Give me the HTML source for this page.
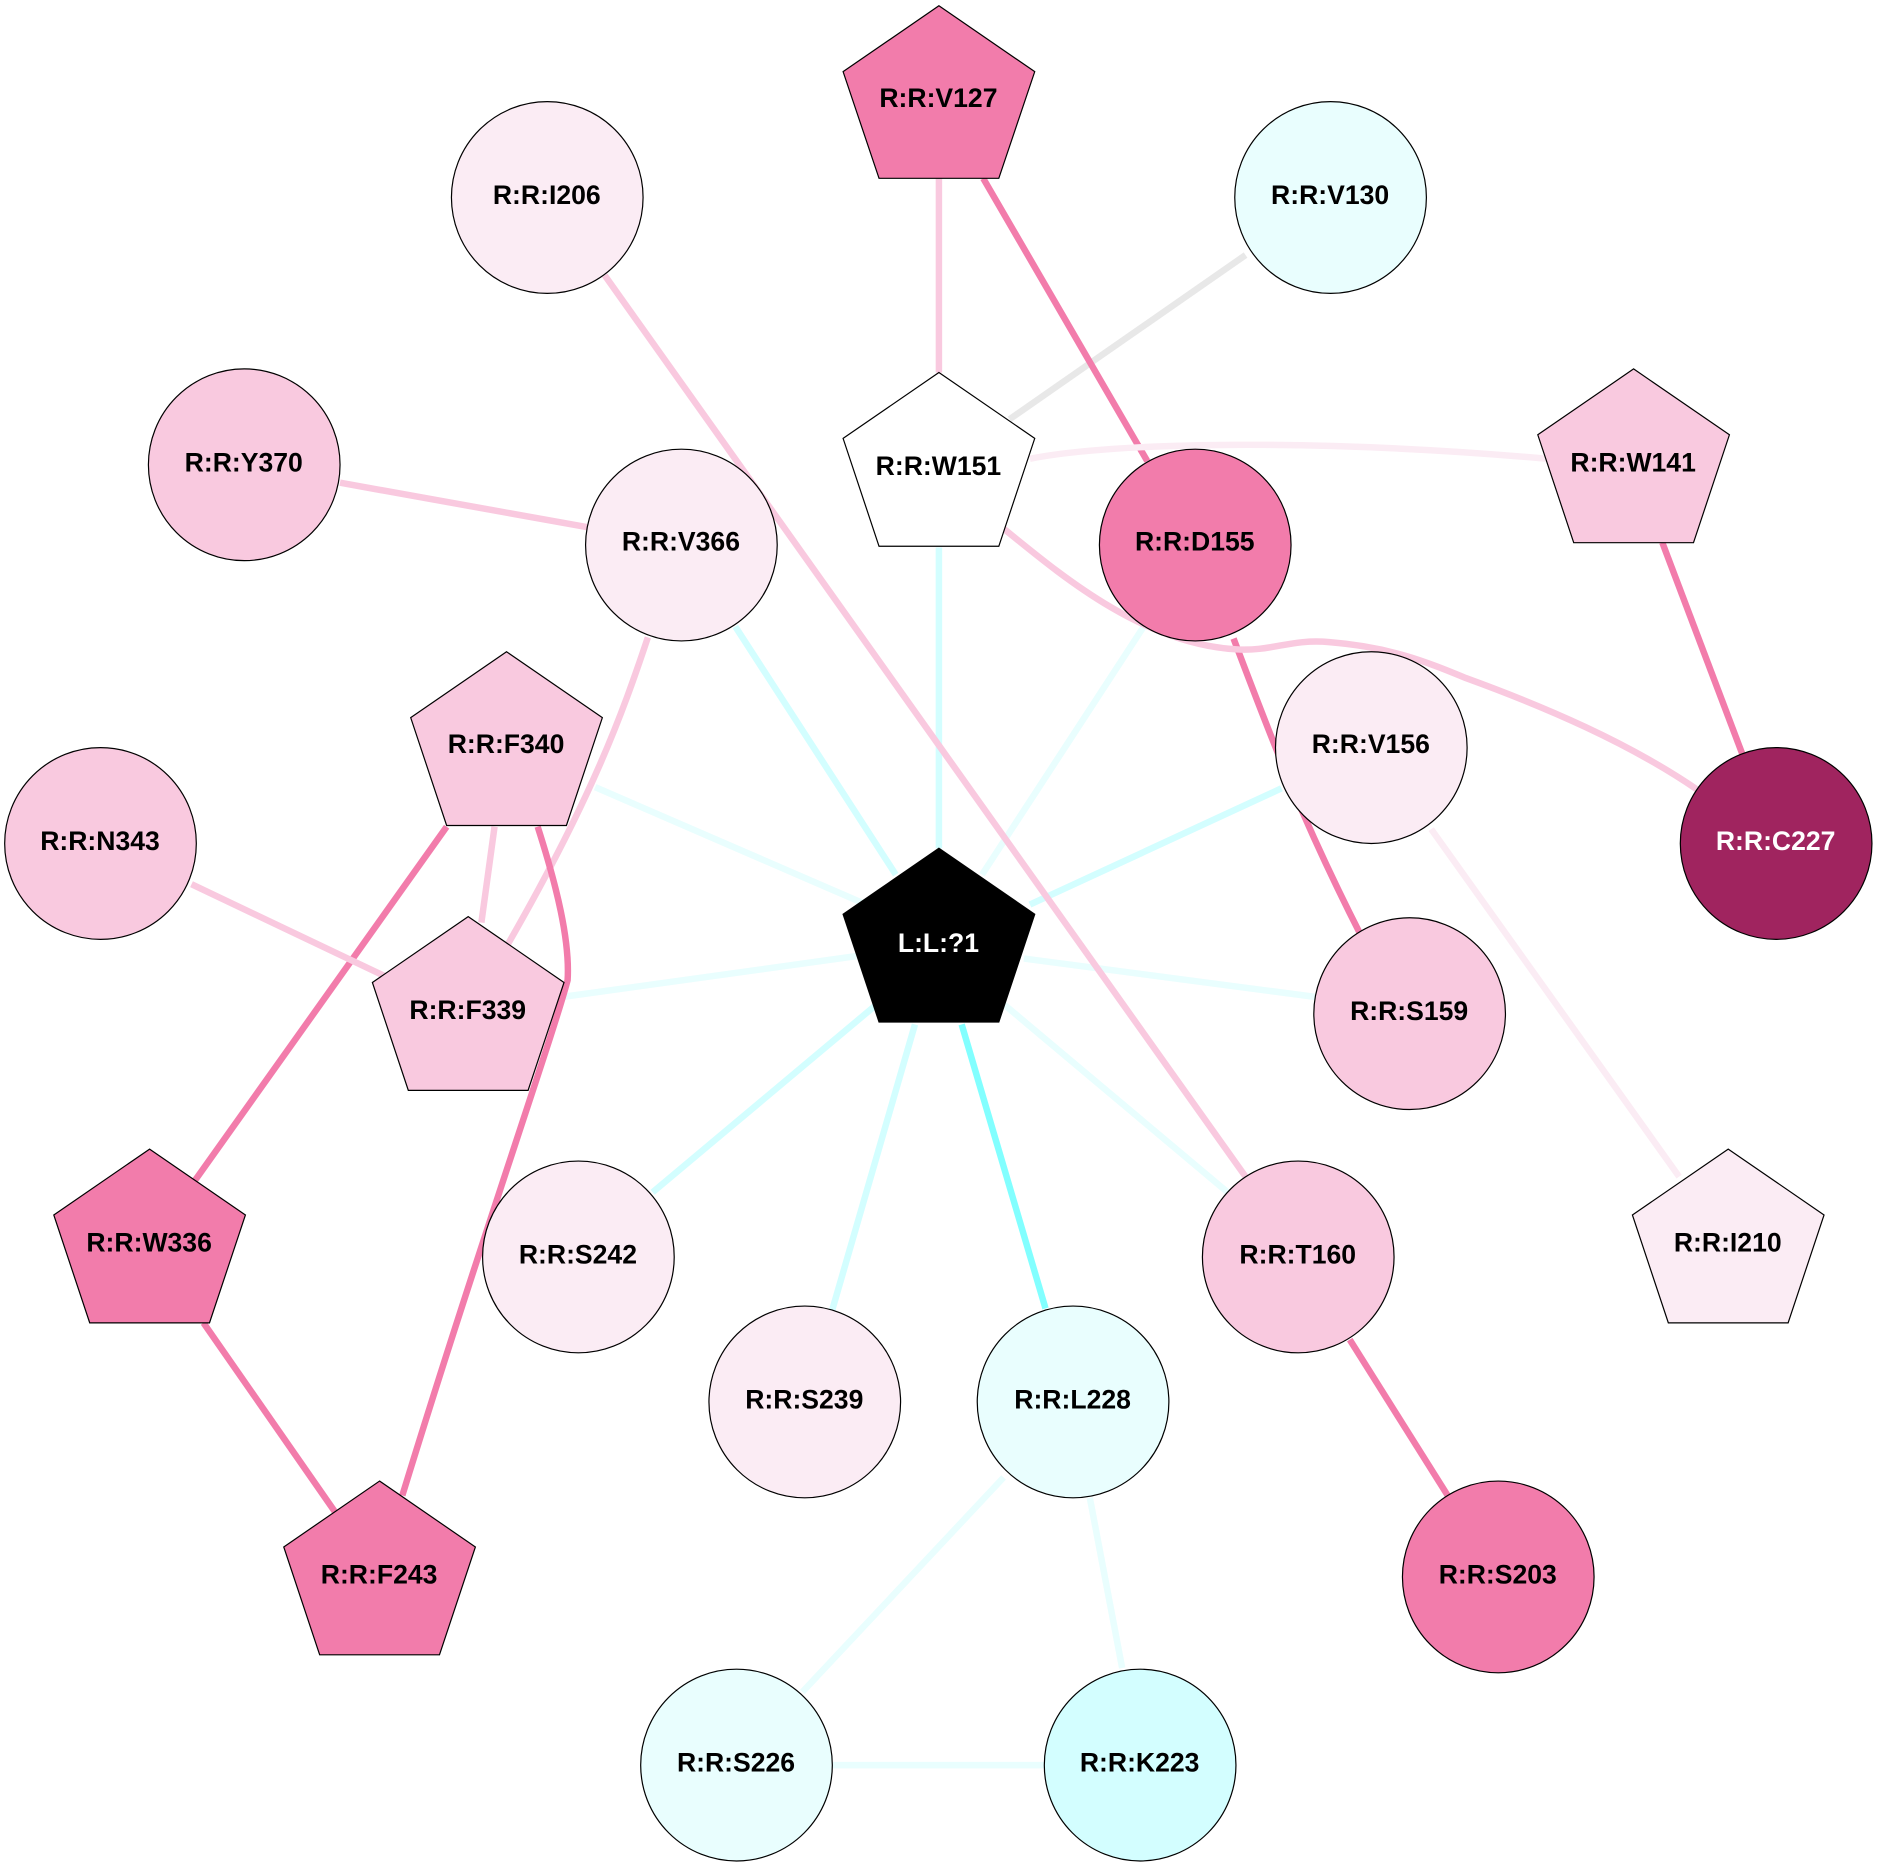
<!DOCTYPE html>
<html><head><meta charset="utf-8"><style>
html,body{margin:0;padding:0;background:#fff}
svg{display:block}
text{font-family:"Liberation Sans",Arial,sans-serif;font-weight:700;font-size:22.2px;text-anchor:middle}
.n{stroke:#000;stroke-width:1}
.e{fill:none;stroke-width:5.4}
.a{stroke:#f27cab}.b{stroke:#f9c9df}.c{stroke:#fbecf4}
.d{stroke:#d3feff}.f{stroke:#e9fefe}.g{stroke:#82ffff}.h{stroke:#e8e8e8}
</style></head><body>
<svg width="1878" height="1866" viewBox="0 0 1567 1557" xmlns="http://www.w3.org/2000/svg">
<rect width="1567" height="1557" fill="#fff"/>
<g transform="translate(-0.1,-0.2) scale(0.9994,1)">
<g>
<path class="e d" d="M784 457V708"/>
<path class="e d" d="M614 523L748 730"/>
<path class="e f" d="M497 657L735 760"/>
<path class="e f" d="M470 832L715 798"/>
<path class="e d" d="M545 995L730 840"/>
<path class="e d" d="M695 1093L764 855"/>
<path class="e g" d="M873 1092L803 855"/>
<path class="e f" d="M1025 995L838 838"/>
<path class="e f" d="M1098 832L855 800"/>
<path class="e d" d="M1070 658L860 755"/>
<path class="e f" d="M955 523L820 730"/>
<path class="e f" d="M838 1233L670 1412"/>
<path class="e f" d="M910 1250L937 1392"/>
<path class="e f" d="M695 1473H873"/>
<path class="e h" d="M1040 213L843 350"/>
<path class="e b" d="M784 149V311"/>
<path class="e a" d="M821 149L958 385"/>
<path class="e c" d="M860 383C930 369 1100 366 1292 383"/>
<path class="e a" d="M1388 453L1455 630"/>
<path class="e a" d="M1030 533C1060 612 1085 680 1137 782"/>
<path class="e b" d="M834 438C880 475 950 537 1032 542C1062 544 1078 533 1110 536C1160 540 1190 552 1224 566C1290 590 1360 620 1417 659"/>
<path class="e c" d="M1195 692L1402 982"/>
<path class="e b" d="M505 230L1040 982"/>
<path class="e a" d="M1127 1118L1210 1250"/>
<path class="e b" d="M284 403L490 440"/>
<path class="e b" d="M541 532C520 595 495 665 423 790"/>
<path class="e b" d="M413 690L402 770"/>
<path class="e a" d="M373 690L163 985"/>
<path class="e b" d="M160 738L322 815"/>
<path class="e a" d="M449 690C465 740 476 785 474 818C460 870 400 1040 336 1248"/>
<path class="e a" d="M170 1104L280 1262"/>
</g>
<g class="n">
<polygon fill="#f27cab" points="784,5 864,60 834,149 734,149 704,60"/>
<polygon fill="#fff" points="784,311 864,366 834,456 734,456 704,366"/>
<polygon fill="#f9c9df" points="1364,308 1444,363 1414,453 1314,453 1284,363"/>
<polygon fill="#f9c9df" points="423,544 503,599 473,689 373,689 343,599"/>
<polygon fill="#f9c9df" points="391,765 471,820 441,910 341,910 311,820"/>
<polygon fill="#000" points="784,708 864,763 834,853 734,853 704,763"/>
<polygon fill="#f27cab" points="125,959 205,1014 175,1104 75,1104 45,1014"/>
<polygon fill="#fbecf4" points="1443,959 1523,1014 1493,1104 1393,1104 1363,1014"/>
<polygon fill="#f27cab" points="317,1236 397,1291 367,1381 267,1381 237,1291"/>
<circle fill="#fbecf4" cx="457" cy="165" r="80"/>
<circle fill="#e9fefe" cx="1111" cy="165" r="80"/>
<circle fill="#f9c9df" cx="204" cy="388" r="80"/>
<circle fill="#fbecf4" cx="569" cy="455" r="80"/>
<circle fill="#f27cab" cx="998" cy="455" r="80"/>
<circle fill="#fbecf4" cx="1145" cy="624" r="80"/>
<circle fill="#a0245f" cx="1483" cy="704" r="80"/>
<circle fill="#f9c9df" cx="84" cy="704" r="80"/>
<circle fill="#f9c9df" cx="1177" cy="846" r="80"/>
<circle fill="#fbecf4" cx="483" cy="1049" r="80"/>
<circle fill="#f9c9df" cx="1084" cy="1049" r="80"/>
<circle fill="#fbecf4" cx="672" cy="1170" r="80"/>
<circle fill="#e9fefe" cx="896" cy="1170" r="80"/>
<circle fill="#f27cab" cx="1251" cy="1316" r="80"/>
<circle fill="#e9fefe" cx="615" cy="1473" r="80"/>
<circle fill="#d3feff" cx="952" cy="1473" r="80"/>
</g>
<g transform="translate(-0.4,-0.5)">
<text x="784" y="90">R:R:V127</text>
<text x="784" y="397">R:R:W151</text>
<text x="1364" y="394">R:R:W141</text>
<text x="423" y="629">R:R:F340</text>
<text x="391" y="851">R:R:F339</text>
<text x="784" y="795" fill="#fff">L:L:?1</text>
<text x="125" y="1045">R:R:W336</text>
<text x="1443" y="1045">R:R:I210</text>
<text x="317" y="1322">R:R:F243</text>
<text x="457" y="171">R:R:I206</text>
<text x="1111" y="171">R:R:V130</text>
<text x="204" y="394">R:R:Y370</text>
<text x="569" y="460">R:R:V366</text>
<text x="998" y="460">R:R:D155</text>
<text x="1145" y="629">R:R:V156</text>
<text x="1483" y="710" fill="#fff">R:R:C227</text>
<text x="84" y="710">R:R:N343</text>
<text x="1177" y="852">R:R:S159</text>
<text x="483" y="1055">R:R:S242</text>
<text x="1084" y="1055">R:R:T160</text>
<text x="672" y="1176">R:R:S239</text>
<text x="896" y="1176">R:R:L228</text>
<text x="1251" y="1322">R:R:S203</text>
<text x="615" y="1479">R:R:S226</text>
<text x="952" y="1479">R:R:K223</text>
</g>
</g>
</svg>
</body></html>
